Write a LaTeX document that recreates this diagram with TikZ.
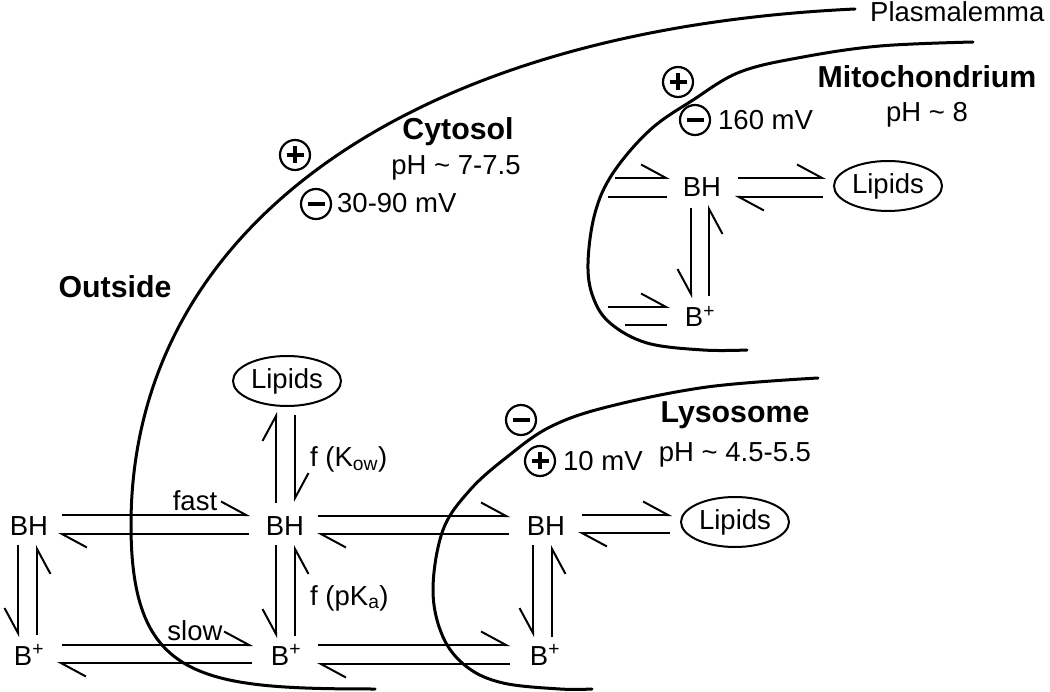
\documentclass[tikz,border=0pt]{standalone}
\usepackage{fontspec}
\setmainfont{Liberation Sans}
\usetikzlibrary{arrows.meta,shapes.geometric,calc}
\begin{document}
\begin{tikzpicture}[x=1pt,y=-1pt,
  font=\fontsize{27.5}{33}\selectfont,
  txt/.style={inner sep=0pt, anchor=base},
  bold/.style={txt, font=\fontsize{30.3}{36}\selectfont\bfseries},
  memb/.style={line width=3pt, line cap=round},
  hl/.style={line width=2pt, -{Straight Barb[harpoon,length=25pt,width=27pt]}},
  hr/.style={line width=2pt, -{Straight Barb[harpoon,swap,length=25pt,width=27pt]}},
  plainln/.style={line width=2pt},
  lip/.style={ellipse, draw, line width=2pt, minimum width=108pt, minimum height=50pt, inner sep=0pt},
  sgn/.style={circle, draw, line width=2.2pt, minimum size=30pt, inner sep=0pt},
  bar/.style={line width=4.5pt}]
\useasboundingbox (0,0) rectangle (1050,692);

% membranes
\draw[memb] (855,9) .. controls (405,30) and (131,230) .. (131,525)
  .. controls (131,680) and (200,689) .. (375,689);
\draw[memb] plot[smooth, tension=0.6] coordinates {(973,42) (880,46) (803,57) (740,72) (693,100) (650,130) (613,173) (595,213) (588,263) (593,297) (610,323) (647,343) (703,350) (747,350)};
\draw[memb] plot[smooth, tension=0.6] coordinates {(818,378) (707,387) (607,407) (550,427) (507,457) (470,490) (443,530) (433,590) (443,637) (467,667) (503,683) (560,689) (592,689)};

% labels
\node[txt, anchor=base west] (plasma) at (870,22) {Plasmalemma};
\node[bold] (mito) at (927,88) {Mitochondrium};
\node[txt] (mitoph) at (927,122) {pH \textasciitilde{} 8};
\node[txt, anchor=base west] (mitomv) at (718,130) {160 mV};
\node[bold] (cyto) at (458,140) {Cytosol};
\node[txt] (cytoph) at (456,175) {pH \textasciitilde{} 7-7.5};
\node[txt, anchor=base west] (cytomv) at (337,213) {30-90 mV};
\node[bold] (outs) at (115,298) {Outside};
\node[bold] (lyso) at (735,423) {Lysosome};
\node[txt] (lysoph) at (735,461) {pH \textasciitilde{} 4.5-5.5};
\node[txt, anchor=base west] (lysomv) at (563,471) {10 mV};
\node[txt] (fast) at (195,510) {fast};
\node[txt] (slow) at (195,640) {slow};
\node[txt, anchor=base west] (fkow) at (310,467) {f (K\textsubscript{ow})};
\node[txt, anchor=base west] (fpka) at (310,605) {f (pK\textsubscript{a})};

% charge signs
\node[sgn] (sP1) at (295,155) {};
\draw[bar] ($(sP1)+(-8.5,0)$) -- ($(sP1)+(8.5,0)$) ($(sP1)+(0,-8.5)$) -- ($(sP1)+(0,8.5)$);
\node[sgn] (sM1) at (316,204) {};
\draw[bar] ($(sM1)+(-8.5,0)$) -- ($(sM1)+(8.5,0)$);
\node[sgn] (sP2) at (678,82) {};
\draw[bar] ($(sP2)+(-8.5,0)$) -- ($(sP2)+(8.5,0)$) ($(sP2)+(0,-8.5)$) -- ($(sP2)+(0,8.5)$);
\node[sgn] (sM2) at (695,120) {};
\draw[bar] ($(sM2)+(-8.5,0)$) -- ($(sM2)+(8.5,0)$);
\node[sgn] (sM3) at (521,420) {};
\draw[bar] ($(sM3)+(-8.5,0)$) -- ($(sM3)+(8.5,0)$);
\node[sgn] (sP3) at (540,461) {};
\draw[bar] ($(sP3)+(-8.5,0)$) -- ($(sP3)+(8.5,0)$) ($(sP3)+(0,-8.5)$) -- ($(sP3)+(0,8.5)$);

% species
\node[txt] (bhO) at (29,535) {BH};
\node[txt] (bpO) at (29,665) {B\textsuperscript{+}};
\node[txt] (bhC) at (285,535) {BH};
\node[txt] (bpC) at (286,665) {B\textsuperscript{+}};
\node[txt] (bhL) at (546,535) {BH};
\node[txt] (bpL) at (545,665) {B\textsuperscript{+}};
\node[txt] (bhM) at (702,197) {BH};
\node[txt] (bpM) at (700,327) {B\textsuperscript{+}};
\node[lip] (lipC) at (287,381) {Lipids};
\node[lip] (lipL) at (735,522) {Lipids};
\node[lip] (lipM) at (888,186) {Lipids};
\coordinate (mIn1) at (615,178);
\coordinate (mOut1) at (608,197);
\coordinate (mIn2) at (608,307);
\coordinate (mOut2) at (625,325);

% outside <-> cytosol
\draw[hl] ($(bhO.base)+(33,-20)$) -- ($(bhC.base)+(-35,-20)$);
\draw[hl] ($(bhC.base)+(-36,-1)$) -- ($(bhO.base)+(29,-1)$);
\draw[hl] ($(bpO.base)+(33,-20)$) -- ($(bpC.base)+(-33,-20)$);
\draw[hl] ($(bpC.base)+(-34,-2)$) -- ($(bpO.base)+(28,-2)$);
% cytosol <-> lysosome
\draw[hl] ($(bhC.base)+(33,-19)$) -- ($(bhL.base)+(-36,-19)$);
\draw[hl] ($(bhL.base)+(-37,-1)$) -- ($(bhC.base)+(32,-1)$);
\draw[hl] ($(bpC.base)+(32,-20)$) -- ($(bpL.base)+(-35,-20)$);
\draw[hl] ($(bpL.base)+(-35,-1)$) -- ($(bpC.base)+(31,-1)$);
% lysosome BH <-> lipids
\draw[hl] ($(bhL.base)+(36,-20)$) -- ($(lipL.west)+(-8,-7)$);
\draw[hl] ($(lipL.west)+(-10,11)$) -- ($(bhL.base)+(32,-2)$);
% cytosol BH <-> lipids
\draw[hl] ($(bhC.base)+(-9,-32)$) -- ($(lipC.center)+(-11,31)$);
\draw[hl] ($(lipC.center)+(8,34)$) -- ($(bhC.base)+(10,-33)$);
% vertical BH <-> B+
\draw[hr] ($(bhO.base)+(-11,10)$) -- ($(bpO.base)+(-11,-28)$);
\draw[hr] ($(bpO.base)+(8,-30)$) -- ($(bhO.base)+(8,10)$);
\draw[hr] ($(bhC.base)+(-9,10)$) -- ($(bpC.base)+(-10,-27)$);
\draw[hr] ($(bpC.base)+(9,-29)$) -- ($(bhC.base)+(10,10)$);
\draw[hr] ($(bhL.base)+(-13,10)$) -- ($(bpL.base)+(-12,-28)$);
\draw[hr] ($(bpL.base)+(7,-28)$) -- ($(bhL.base)+(6,10)$);
\draw[hr] ($(bhM.base)+(-11,11)$) -- ($(bpM.base)+(-9,-29)$);
\draw[hr] ($(bpM.base)+(9,-31)$) -- ($(bhM.base)+(7,8)$);
% mitochondrion
\draw[hl] (mIn1) -- ($(bhM.base)+(-32,-19)$);
\draw[plainln] ($(bhM.base)+(-35,0)$) -- (mOut1);
\draw[hl] (mIn2) -- ($(bpM.base)+(-30,-20)$);
\draw[plainln] ($(bpM.base)+(-33,-2)$) -- (mOut2);
\draw[hl] ($(bhM.base)+(36,-19)$) -- ($(lipM.west)+(-7,-8)$);
\draw[hl] ($(lipM.west)+(-10,11)$) -- ($(bhM.base)+(33,0)$);
\end{tikzpicture}
\end{document}
